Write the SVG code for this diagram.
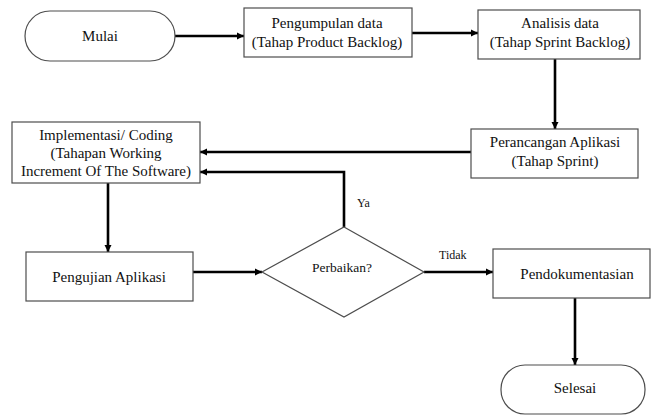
<svg xmlns="http://www.w3.org/2000/svg" width="651" height="416" viewBox="0 0 651 416">
<style>
.shape{fill:#fff;stroke:#4d4d4d;stroke-width:1.2}
.t{font-family:"Liberation Serif",serif;font-size:15px;fill:#111;text-anchor:middle}
.s{font-family:"Liberation Serif",serif;font-size:12px;fill:#111}
.c{fill:none;stroke:#000;stroke-width:2.6;marker-end:url(#ah)}
</style>
<defs>
<marker id="ah" markerUnits="userSpaceOnUse" markerWidth="8" markerHeight="8" refX="7" refY="4" orient="auto">
<path d="M0,0.5 L7,4 L0,7.5 Z" fill="#000"/>
</marker>
</defs>
<rect width="651" height="416" fill="#fff"/>
<g id="connectors">
<line class="c" x1="175" y1="36" x2="244" y2="36"/>
<line class="c" x1="412" y1="33" x2="478" y2="33"/>
<line class="c" x1="555" y1="59" x2="555" y2="129"/>
<line class="c" x1="471" y1="152" x2="200" y2="152"/>
<polyline class="c" points="344,227 344,172 200,172"/>
<line class="c" x1="108" y1="183" x2="108" y2="252"/>
<line class="c" x1="193" y1="272" x2="262" y2="272"/>
<line class="c" x1="424" y1="272" x2="493" y2="272"/>
<line class="c" x1="575" y1="298" x2="575" y2="365"/>
<text class="s" x="357" y="207">Ya</text>
<text class="s" x="439" y="259">Tidak</text>
</g>
<g id="mulai">
<rect class="shape" x="25" y="11" width="150" height="50" rx="25" ry="25"/>
<text class="t" x="100" y="41">Mulai</text>
</g>
<g id="pengumpulan">
<rect class="shape" x="244" y="8" width="168" height="49"/>
<text class="t" x="327" y="28">Pengumpulan data</text>
<text class="t" x="327" y="47">(Tahap Product Backlog)</text>
</g>
<g id="analisis">
<rect class="shape" x="478" y="10" width="162" height="49"/>
<text class="t" x="560" y="28">Analisis data</text>
<text class="t" x="560" y="47">(Tahap Sprint Backlog)</text>
</g>
<g id="perancangan">
<rect class="shape" x="471" y="129" width="167" height="49"/>
<text class="t" x="555" y="147">Perancangan Aplikasi</text>
<text class="t" x="555" y="166">(Tahap Sprint)</text>
</g>
<g id="implementasi">
<rect class="shape" x="12" y="122" width="188" height="61"/>
<text class="t" x="106" y="140">Implementasi/ Coding</text>
<text class="t" x="106" y="158">(Tahapan Working</text>
<text class="t" x="106" y="176">Increment Of The Software)</text>
</g>
<g id="pengujian">
<rect class="shape" x="26" y="252" width="167" height="49"/>
<text class="t" x="109" y="282">Pengujian Aplikasi</text>
</g>
<g id="perbaikan">
<polygon class="shape" points="344,227 424,272 344,317 262,272"/>
<text class="t" x="342" y="272" style="font-size:13.5px">Perbaikan?</text>
</g>
<g id="pendokumentasian">
<rect class="shape" x="493" y="249" width="157" height="49"/>
<text class="t" x="577" y="279">Pendokumentasian</text>
</g>
<g id="selesai">
<rect class="shape" x="501" y="365" width="144" height="49" rx="24" ry="24"/>
<text class="t" x="575" y="393">Selesai</text>
</g>
</svg>
